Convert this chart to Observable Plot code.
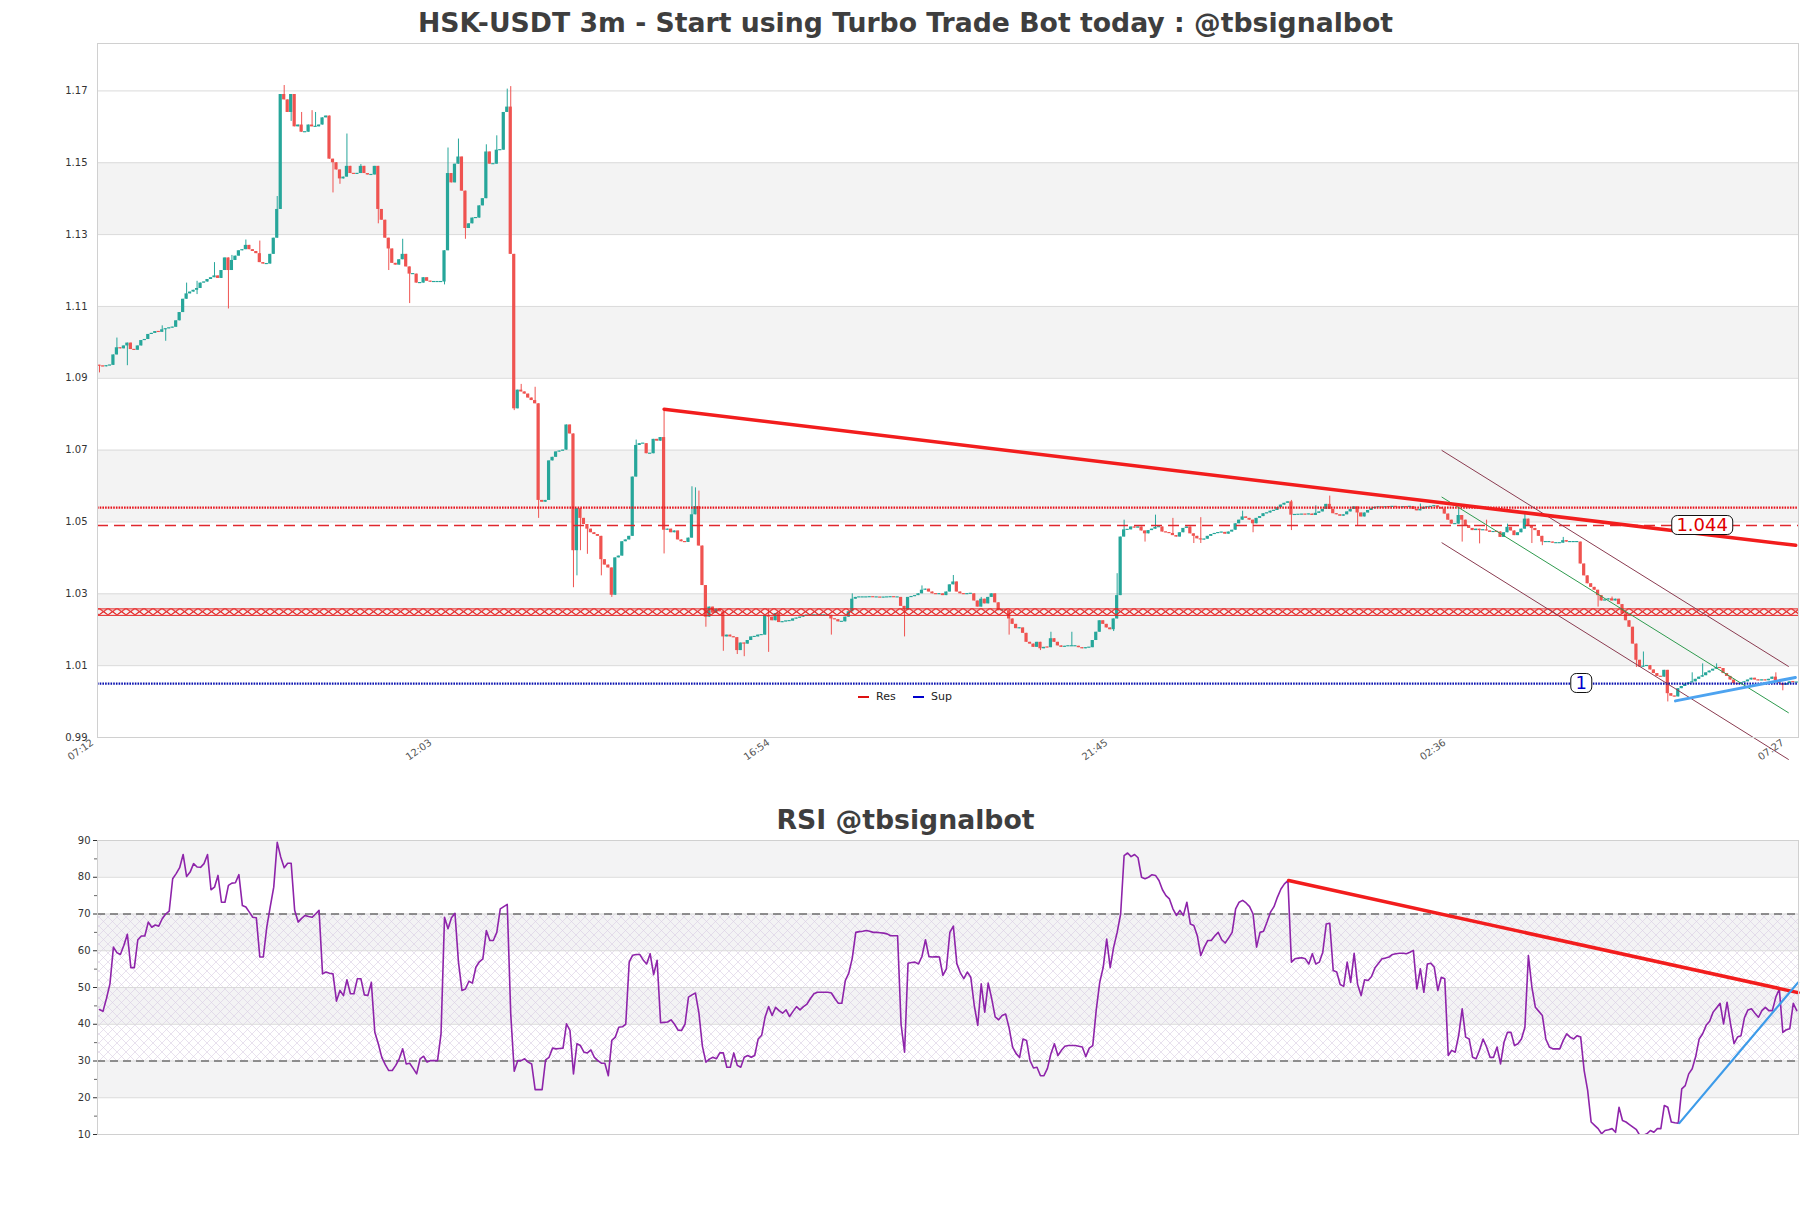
<!DOCTYPE html>
<html><head><meta charset="utf-8">
<script src="https://cdn.jsdelivr.net/npm/d3@7"></script>
<script src="https://cdn.jsdelivr.net/npm/@observablehq/plot@0.6"></script>
<style>
body{margin:0;background:#fff;font-family:"DejaVu Sans",sans-serif;}
#wrap{position:relative;width:1811px;height:1208px;overflow:hidden;background:#fff;}
.title{position:absolute;left:0;width:1811px;text-align:center;font-weight:bold;font-size:26.7px;line-height:32px;color:#3e3e3e;z-index:3;}
.pane{position:absolute;left:0;}
.lbl{position:absolute;transform:translate(-50%,-50%);background:#fff;border:1px solid #111;border-radius:6px;font-size:18px;line-height:16px;padding:1px 4px;z-index:4;white-space:nowrap;}
.leg{position:absolute;font-size:11px;line-height:14px;color:#222;z-index:4;}
.legline{position:absolute;height:2.5px;width:11px;z-index:4;}
</style></head>
<body>
<svg width="0" height="0" style="position:absolute">
<defs>
<pattern id="xzone" patternUnits="userSpaceOnUse" x="0" y="0" width="9" height="6">
<path id="xzonePath" d="M0,0L9,6M9,0L0,6" stroke="#e52222" stroke-width="1.2" fill="none"/>
</pattern>
<pattern id="rsiHatch" patternUnits="userSpaceOnUse" width="9" height="9">
<path d="M0,0L9,9M9,0L0,9" stroke="#d8cce2" stroke-width="0.6" fill="none"/>
</pattern>
</defs></svg>
<div id="wrap"></div>
<script>
// ---------- DATA ----------
const firstOpen = 1.0936;
const closes = [
1.0934,1.0932,1.0935,1.0936,1.0965,1.0985,1.0982,1.0990,1.0998,1.0980,
1.0978,1.0990,1.1005,1.1008,1.1022,1.1025,1.1030,1.1028,1.1035,1.1038,
1.1040,1.1042,1.1060,1.1083,1.1120,1.1135,1.1140,1.1145,1.1150,1.1165,
1.1168,1.1175,1.1180,1.1185,1.1178,1.1200,1.1235,1.1200,1.1228,1.1240,
1.1255,1.1258,1.1270,1.1258,1.1253,1.1247,1.1222,1.1218,1.1218,1.1245,
1.1290,1.1370,1.1690,1.1675,1.1640,1.1690,1.1600,1.1605,1.1585,1.1585,
1.1605,1.1600,1.1600,1.1605,1.1625,1.1630,1.1510,1.1500,1.1480,1.1455,
1.1460,1.1490,1.1470,1.1468,1.1470,1.1490,1.1470,1.1466,1.1466,1.1490,
1.1370,1.1340,1.1290,1.1260,1.1220,1.1215,1.1230,1.1245,1.1210,1.1190,
1.1190,1.1165,1.1165,1.1180,1.1170,1.1168,1.1168,1.1168,1.1168,1.1255,
1.1470,1.1444,1.1496,1.1516,1.1421,1.1317,1.1330,1.1346,1.1346,1.1380,
1.1400,1.1530,1.1496,1.1496,1.1535,1.1535,1.1640,1.1655,1.1245,1.0815,
1.0867,1.0862,1.0856,1.0845,1.0838,1.0829,1.0560,1.0555,1.0560,1.0670,
1.0680,1.0695,1.0697,1.0700,1.0770,1.0745,1.0420,1.0537,1.0510,1.0493,
1.0480,1.0470,1.0465,1.0460,1.0395,1.0380,1.0372,1.0296,1.0400,1.0405,
1.0445,1.0450,1.0460,1.0625,1.0713,1.0718,1.0718,1.0690,1.0690,1.0730,
1.0725,1.0735,1.0477,1.0480,1.0470,1.0475,1.0450,1.0445,1.0443,1.0455,
1.0520,1.0543,1.0433,1.0323,1.0235,1.0263,1.0246,1.0257,1.0250,1.0180,
1.0185,1.0180,1.0178,1.0142,1.0163,1.0160,1.0170,1.0180,1.0180,1.0185,
1.0185,1.0240,1.0235,1.0225,1.0245,1.0220,1.0222,1.0224,1.0224,1.0230,
1.0232,1.0235,1.0239,1.0240,1.0240,1.0240,1.0240,1.0240,1.0240,1.0240,
1.0230,1.0228,1.0222,1.0222,1.0235,1.0250,1.0285,1.0290,1.0290,1.0290,
1.0290,1.0291,1.0290,1.0290,1.0289,1.0290,1.0290,1.0291,1.0290,1.0290,
1.0265,1.0255,1.0290,1.0292,1.0295,1.0300,1.0310,1.0313,1.0305,1.0300,
1.0298,1.0300,1.0295,1.0305,1.0325,1.0333,1.0305,1.0300,1.0298,1.0300,
1.0300,1.0280,1.0263,1.0285,1.0272,1.0290,1.0300,1.0275,1.0253,1.0255,
1.0253,1.0230,1.0215,1.0203,1.0205,1.0190,1.0165,1.0160,1.0151,1.0165,
1.0147,1.0151,1.0150,1.0175,1.0165,1.0155,1.0151,1.0154,1.0154,1.0154,
1.0154,1.0150,1.0147,1.0150,1.0150,1.0170,1.0193,1.0225,1.0215,1.0205,
1.0200,1.0230,1.0295,1.0458,1.0478,1.0478,1.0486,1.0483,1.0486,1.0475,
1.0467,1.0476,1.0480,1.0485,1.0486,1.0472,1.0470,1.0468,1.0462,1.0458,
1.0470,1.0482,1.0486,1.0467,1.0460,1.0453,1.0450,1.0452,1.0460,1.0465,
1.0468,1.0470,1.0471,1.0466,1.0472,1.0477,1.0495,1.0505,1.0514,1.0510,
1.0505,1.0495,1.0510,1.0515,1.0523,1.0525,1.0530,1.0532,1.0540,1.0547,
1.0552,1.0556,1.0519,1.0520,1.0520,1.0521,1.0520,1.0522,1.0518,1.0524,
1.0528,1.0535,1.0549,1.0535,1.0523,1.0520,1.0516,1.0520,1.0528,1.0535,
1.0542,1.0525,1.0514,1.0525,1.0532,1.0537,1.0541,1.0541,1.0540,1.0542,
1.0541,1.0543,1.0541,1.0540,1.0542,1.0541,1.0543,1.0535,1.0531,1.0535,
1.0541,1.0541,1.0543,1.0545,1.0540,1.0536,1.0522,1.0505,1.0494,1.0494,
1.0518,1.0505,1.0490,1.0482,1.0476,1.0480,1.0476,1.0478,1.0475,1.0471,
1.0473,1.0472,1.0457,1.0470,1.0485,1.0475,1.0462,1.0470,1.0480,1.0508,
1.0490,1.0482,1.0476,1.0460,1.0444,1.0444,1.0444,1.0441,1.0441,1.0441,
1.0448,1.0444,1.0444,1.0444,1.0444,1.0383,1.0350,1.0328,1.0318,1.0310,
1.0295,1.0280,1.0283,1.0286,1.0280,1.0285,1.0270,1.0244,1.0225,1.0207,
1.0160,1.0115,1.0096,1.0098,1.0100,1.0088,1.0078,1.0070,1.0068,1.0087,
1.0022,1.0015,1.0013,1.0036,1.0042,1.0048,1.0052,1.0055,1.0062,1.0068,
1.0072,1.0080,1.0085,1.0090,1.0095,1.0092,1.0078,1.0070,1.0060,1.0050,
1.0048,1.0052,1.0055,1.0060,1.0065,1.0060,1.0058,1.0060,1.0058,1.0062,
1.0068,1.0057,1.0050,1.0045,1.0050,1.0055,1.0053,1.0053];

// notable wicks: [candle index, high, low]
const wicks = [
[0,null,1.0915],[5,1.1012,null],[8,null,1.0935],[18,1.1046,null],[19,null,1.1003],[25,1.1165,null],[28,1.1170,1.1133],[33,1.1222,null],[37,null,1.1093],[38,1.1242,null],[42,1.1285,null],[46,1.1282,null],[51,1.1406,null],[53,1.1715,null],[55,null,1.1615],[58,1.1640,null],[61,1.1645,null],[62,1.1640,null],[67,null,1.1416],[69,null,1.1440],[71,1.1580,null],[75,1.1495,null],[80,null,1.1330],[83,null,1.1200],[87,1.1287,null],[89,null,1.1108],[99,null,1.1160],[100,1.1541,null],[103,1.1566,null],[105,null,1.1287],[111,1.1550,null],[114,1.1575,null],[117,1.1705,null],[118,1.1712,null],[119,null,1.0810],
[121,1.0883,null],[125,1.0875,null],[126,null,1.0510],[136,null,1.0317],[137,null,1.0350],[138,null,1.0420],[140,null,1.0410],[144,null,1.0350],[147,null,1.0290],[154,1.0728,null],[162,1.0814,1.0411],[170,1.0598,null],[171,1.0595,null],[172,1.0586,null],[174,null,1.0207],[179,null,1.0140],[183,null,1.0131],[185,null,1.0125],[192,1.0257,1.0137],[210,null,1.0185],[216,1.0300,null],[231,null,1.0180],[236,1.0322,null],
[245,1.0351,null],[253,1.0290,null],[261,null,1.0185],[270,null,1.0142],[273,1.0193,null],[279,1.0193,null],[291,null,1.0195],[292,1.0356,null],[294,1.0505,null],[300,null,1.0444],[303,1.0519,null],[308,1.0510,null],[314,null,1.0440],[316,1.0512,1.0440],[328,1.0530,null],[331,null,1.0470],[342,1.0560,1.0476],[349,1.0545,null],[353,1.0572,null],[361,null,1.0490],
[379,1.0550,null],[390,1.0540,null],[391,null,1.0444],[396,null,1.0439],[398,1.0505,null],[404,1.0494,null],[409,1.0522,null],[411,null,1.0440],[414,null,1.0434],[420,1.0457,null],[430,null,1.0263],[434,1.0291,null],[441,null,1.0095],[443,1.0138,null],[450,null,0.9999],[457,1.0080,null],[460,1.0105,null],[464,1.0105,null],[481,1.0080,null],[483,null,1.0030]];

const rsi = [
44.0,43.5,47.0,51.0,61.0,59.5,59.0,61.5,64.5,55.4,
55.4,63.0,64.0,64.0,67.8,66.4,67.0,66.7,68.7,70.0,
70.8,79.6,81.0,82.6,86.2,80.2,81.4,83.7,82.8,82.7,
83.7,86.2,76.6,77.3,80.5,73.2,73.2,77.8,78.4,78.5,
80.7,72.3,71.9,70.5,69.1,69.0,58.3,58.3,66.4,72.0,
77.3,89.5,85.5,82.6,83.8,83.8,71.0,67.8,68.8,69.6,
69.3,69.1,70.0,71.0,53.7,54.2,53.9,53.7,46.3,49.2,
47.8,52.1,48.3,48.3,52.4,52.4,48.0,47.8,51.4,37.8,
34.7,31.0,29.0,27.4,27.4,28.8,30.6,33.3,29.2,29.4,
28.0,26.5,30.6,31.3,29.7,30.1,30.1,30.1,37.4,69.1,
66.0,69.0,70.2,56.9,49.2,49.6,51.7,51.2,55.5,57.0,
57.8,65.5,62.8,62.8,65.0,71.4,72.0,72.6,42.8,27.2,
30.1,30.1,30.6,29.7,29.2,22.2,22.2,22.2,30.3,31.0,
33.5,33.3,33.4,33.5,40.1,38.3,26.5,34.7,34.2,32.4,
32.2,33.0,31.0,30.1,29.4,29.4,26.0,35.6,36.5,39.2,
39.3,40.0,57.0,58.8,59.0,59.0,57.5,56.4,59.2,53.5,
57.4,40.4,40.5,40.6,41.2,40.0,38.4,38.3,40.0,47.4,
48.0,48.5,43.0,34.0,29.7,30.5,31.0,30.6,32.2,32.2,
28.3,28.3,32.2,28.8,28.3,31.0,31.5,31.0,31.5,36.0,
37.0,42.0,44.8,42.4,44.6,43.7,43.0,43.9,42.1,43.5,
44.8,43.9,44.8,45.5,47.0,48.3,48.7,48.7,48.7,48.7,
48.5,47.0,45.7,45.7,51.9,53.9,58.0,65.0,65.2,65.3,
65.5,65.3,65.0,65.0,64.9,64.8,64.6,64.1,64.1,64.1,
40.0,32.4,56.6,56.8,56.9,56.4,58.5,63.0,58.4,58.3,
58.4,58.3,53.3,55.1,65.0,66.7,56.5,54.0,52.4,54.2,
52.8,45.1,39.7,51.0,43.3,51.2,47.0,42.0,41.2,42.4,
42.8,39.0,33.8,32.0,31.0,36.0,35.6,30.1,28.1,28.3,
26.0,26.0,28.0,32.0,34.7,31.5,32.9,34.0,34.2,34.2,
34.2,34.0,33.8,31.2,33.5,34.2,43.9,51.4,55.5,63.2,
55.4,61.0,65.0,70.0,85.9,86.6,85.6,86.2,85.3,80.0,
79.6,80.0,80.7,80.5,79.1,76.6,75.0,74.1,71.4,69.6,
71.0,69.6,73.2,67.3,66.9,64.1,58.7,61.0,62.8,62.8,
64.0,65.0,63.0,62.1,63.5,65.0,71.4,73.2,73.7,73.0,
72.0,70.0,61.0,65.0,65.3,67.8,70.5,72.0,74.6,76.8,
78.2,79.1,56.9,57.8,58.0,58.1,57.8,56.4,59.2,56.4,
56.9,59.6,67.3,67.5,54.6,54.2,50.8,50.3,56.9,51.4,
59.3,50.8,47.8,52.1,51.9,53.0,55.4,56.6,57.8,58.0,
58.3,59.0,59.2,59.3,59.3,59.2,59.6,60.1,49.6,55.1,
48.7,56.4,56.6,55.5,49.2,52.8,52.4,31.5,32.9,32.4,
37.0,44.2,36.5,36.0,31.0,30.6,33.0,36.0,33.8,31.0,
31.0,33.8,29.2,35.1,37.8,37.8,34.2,34.7,36.0,39.2,
58.7,50.1,44.6,43.5,42.4,36.0,33.8,33.3,33.3,33.3,
35.6,37.4,36.5,36.0,36.9,36.5,27.4,22.0,13.4,12.5,
11.6,10.2,11.1,11.3,11.6,10.6,17.4,13.8,13.4,12.7,
12.0,11.3,9.7,9.8,10.2,11.1,10.6,11.6,11.6,17.9,
17.4,13.4,13.2,13.1,22.4,23.3,26.5,27.9,31.2,36.0,
37.4,39.7,40.8,43.3,44.5,45.7,40.1,46.0,40.1,34.7,
36.5,36.9,41.8,43.9,44.2,43.0,41.9,43.7,44.6,43.7,
43.7,47.4,49.6,37.8,38.5,38.8,45.7,43.7];

const tickIdx = [0, 97, 194, 291, 388, 485];
const tickLabels = ["07:12", "12:03", "16:54", "21:45", "02:36", "07:27"];
const priceTicks = [0.99, 1.01, 1.03, 1.05, 1.07, 1.09, 1.11, 1.13, 1.15, 1.17];
const priceBands = [[1.13, 1.15], [1.09, 1.11], [1.05, 1.07], [1.01, 1.03]];
const resLevel = 1.054;
const resDashed = 1.049;
const zoneLow = 1.0240, zoneHigh = 1.0258;
const supLevel = 1.005;
const resTrend = [[162, 1.0814], [486.7, 1.0435]];
const channelUpper = [[385.2, 1.0699], [484.6, 1.0098]];
const channelMid = [[385.2, 1.0569], [484.6, 0.9969]];
const channelLower = [[385.2, 1.0442], [484.6, 0.9839]];
const supTrend = [[452.2, 1.0002], [486.6, 1.0067]];
const priceLabels = [{text: "1.044", i: 460, v: 1.049, color: "#e00000"}, {text: "1", i: 425.3, v: 1.005, color: "#0000cc"}];

const rsiTicks = [10, 20, 30, 40, 50, 60, 70, 80, 90];
const rsiMinor = [15, 25, 35, 45, 55, 65, 75, 85];
const rsiBands = [[80, 90], [60, 70], [40, 50], [20, 30]];
const rsiZone = [[30, 70]];
const rsiLevels = [30, 70];
const rsiResTrend = [[341.2, 79.1], [487.4, 48.6]];
const rsiSupTrend = [[453.3, 13.1], [487.4, 51.4]];

// ---------- BUILD ----------
const GREEN = "#26a69a", RED = "#ef5350";
const xDomain = [-0.57, 487.5];
const wickMap = new Map(wicks.map(w => [w[0], w]));
const candles = closes.map((c, i) => {
  const o = i === 0 ? firstOpen : closes[i - 1];
  let hi = Math.max(o, c), lo = Math.min(o, c);
  const w = wickMap.get(i);
  if (w) { if (w[1] != null) hi = Math.max(hi, w[1]); if (w[2] != null) lo = Math.min(lo, w[2]); }
  const mid = (o + c) / 2, flat = Math.abs(c - o) < 0.0003;
  return {i, o, c, hi, lo, bt: flat ? mid + 0.00016 : Math.max(o, c), bb: flat ? mid - 0.00016 : Math.min(o, c), col: c >= o ? GREEN : RED};
});

const wrap = document.getElementById("wrap");
const P = () => ({x: d => d[0], y: d => d[1]});

const main = Plot.plot({
  width: 1811, height: 775,
  marginLeft: 97, marginRight: 13, marginTop: 43, marginBottom: 38,
  style: {fontFamily: "DejaVu Sans, sans-serif", fontSize: "10px", background: "transparent", maxWidth: "none"},
  x: {domain: xDomain, label: null},
  y: {domain: [0.99, 1.1832], label: null},
  marks: [
    Plot.rect(priceBands, {y1: d => d[0], y2: d => d[1], fill: "#f3f3f3"}),
    Plot.ruleY(priceTicks, {stroke: "#dadada", strokeWidth: 1}),
    Plot.ruleX(candles, {x: "i", y1: "lo", y2: "hi", stroke: "col", strokeWidth: 1}),
    Plot.rect(candles, {x1: d => d.i - 0.46, x2: d => d.i + 0.46, y1: "bb", y2: "bt", fill: "col"}),
    Plot.rect(rsiZone, {y1: () => zoneLow, y2: () => zoneHigh, fill: "url(#xzone)"}),
    Plot.ruleY([zoneLow, zoneHigh], {stroke: "#e52222", strokeWidth: 1}),
    Plot.ruleY([resDashed], {stroke: "#e0282e", strokeWidth: 1.5, strokeDasharray: "11,6"}),
    Plot.ruleY([resLevel], {stroke: "#e8131b", strokeWidth: 2.4, strokeDasharray: "1.6,1.1"}),
    Plot.ruleY([supLevel], {stroke: "#0a12b0", strokeWidth: 2.4, strokeDasharray: "1.6,1.1"}),
    Plot.line(channelUpper, {...P(), stroke: "#8a3b50", strokeWidth: 1}),
    Plot.line(channelLower, {...P(), stroke: "#8a3b50", strokeWidth: 1}),
    Plot.line(channelMid, {...P(), stroke: "#2e9b4e", strokeWidth: 1}),
    Plot.line(resTrend, {...P(), stroke: "#f21d1d", strokeWidth: 3.5}),
    Plot.line(supTrend, {...P(), stroke: "#4da3f0", strokeWidth: 3}),
    Plot.frame({stroke: "#d0d0d0"}),
    Plot.axisY(priceTicks, {tickSize: 0, tickPadding: 10, tickFormat: d => d.toFixed(2), color: "#333", fontSize: 10, label: null}),
    Plot.axisX(tickIdx, {tickSize: 0, tickPadding: 4, tickRotate: -35, dx: -7, tickFormat: d => tickLabels[tickIdx.indexOf(d)], color: "#555", fontSize: 10, label: null})
  ]
});
const mainDiv = document.createElement("div");
mainDiv.className = "pane"; mainDiv.style.top = "0px";
mainDiv.appendChild(main);
wrap.appendChild(mainDiv);

// align the zone hatch pattern to the band
const sx = main.scale("x"), sy = main.scale("y");
const zTop = sy.apply(zoneHigh), zBot = sy.apply(zoneLow), zh = zBot - zTop;
d3.select("#xzone").attr("y", zTop).attr("height", zh);
d3.select("#xzonePath").attr("d", `M0,0L9,${zh}M9,0L0,${zh}`);

// boxed price labels
for (const l of priceLabels) {
  const d = document.createElement("div");
  d.className = "lbl"; d.textContent = l.text; d.style.color = l.color;
  d.style.left = sx.apply(l.i) + "px"; d.style.top = sy.apply(l.v) + "px";
  wrap.appendChild(d);
}

const rsiPlot = Plot.plot({
  width: 1811, height: 360,
  marginLeft: 97, marginRight: 13, marginTop: 40, marginBottom: 26,
  style: {fontFamily: "DejaVu Sans, sans-serif", fontSize: "10px", background: "transparent", maxWidth: "none"},
  x: {domain: xDomain, axis: null, label: null},
  y: {domain: [10, 90], label: null},
  marks: [
    Plot.rect(rsiBands, {y1: d => d[0], y2: d => d[1], fill: "#f3f3f4"}),
    Plot.rect(rsiZone, {y1: d => d[0], y2: d => d[1], fill: "url(#rsiHatch)"}),
    Plot.ruleY(rsiTicks, {stroke: "#dadada", strokeWidth: 1}),
    Plot.ruleY(rsiLevels, {stroke: "#333", strokeWidth: 1.2, strokeDasharray: "8,5"}),
    Plot.line(rsi, {x: (d, i) => i, y: d => d, stroke: "#8e24aa", strokeWidth: 1.6, clip: true}),
    Plot.line(rsiResTrend, {...P(), stroke: "#f21d1d", strokeWidth: 3.5}),
    Plot.line(rsiSupTrend, {...P(), stroke: "#3d9be9", strokeWidth: 2.2}),
    Plot.frame({stroke: "#d0d0d0"}),
    Plot.axisY(rsiTicks, {tickSize: 4, tickPadding: 3, color: "#333", fontSize: 10, label: null}),
    Plot.axisY(rsiMinor, {tickSize: 3, tickFormat: () => "", color: "#666", label: null})
  ]
});
const rsiDiv = document.createElement("div");
rsiDiv.className = "pane"; rsiDiv.style.top = "800px";
rsiDiv.appendChild(rsiPlot);
wrap.appendChild(rsiDiv);

// titles
const t1 = document.createElement("div"); t1.className = "title"; t1.style.top = "7px";
t1.textContent = "HSK-USDT 3m - Start using Turbo Trade Bot today : @tbsignalbot"; wrap.appendChild(t1);
const t2 = document.createElement("div"); t2.className = "title"; t2.style.top = "804px";
t2.textContent = "RSI @tbsignalbot"; wrap.appendChild(t2);

// legend
const legend = [{name: "Res", color: "#dd1111", left: 858}, {name: "Sup", color: "#0000cc", left: 913}];
for (const g of legend) {
  const ln = document.createElement("div"); ln.className = "legline";
  ln.style.left = g.left + "px"; ln.style.top = "695.5px"; ln.style.background = g.color; wrap.appendChild(ln);
  const tx = document.createElement("div"); tx.className = "leg"; tx.textContent = g.name;
  tx.style.left = (g.left + 18) + "px"; tx.style.top = "690px"; wrap.appendChild(tx);
}
</script>
</body></html>
